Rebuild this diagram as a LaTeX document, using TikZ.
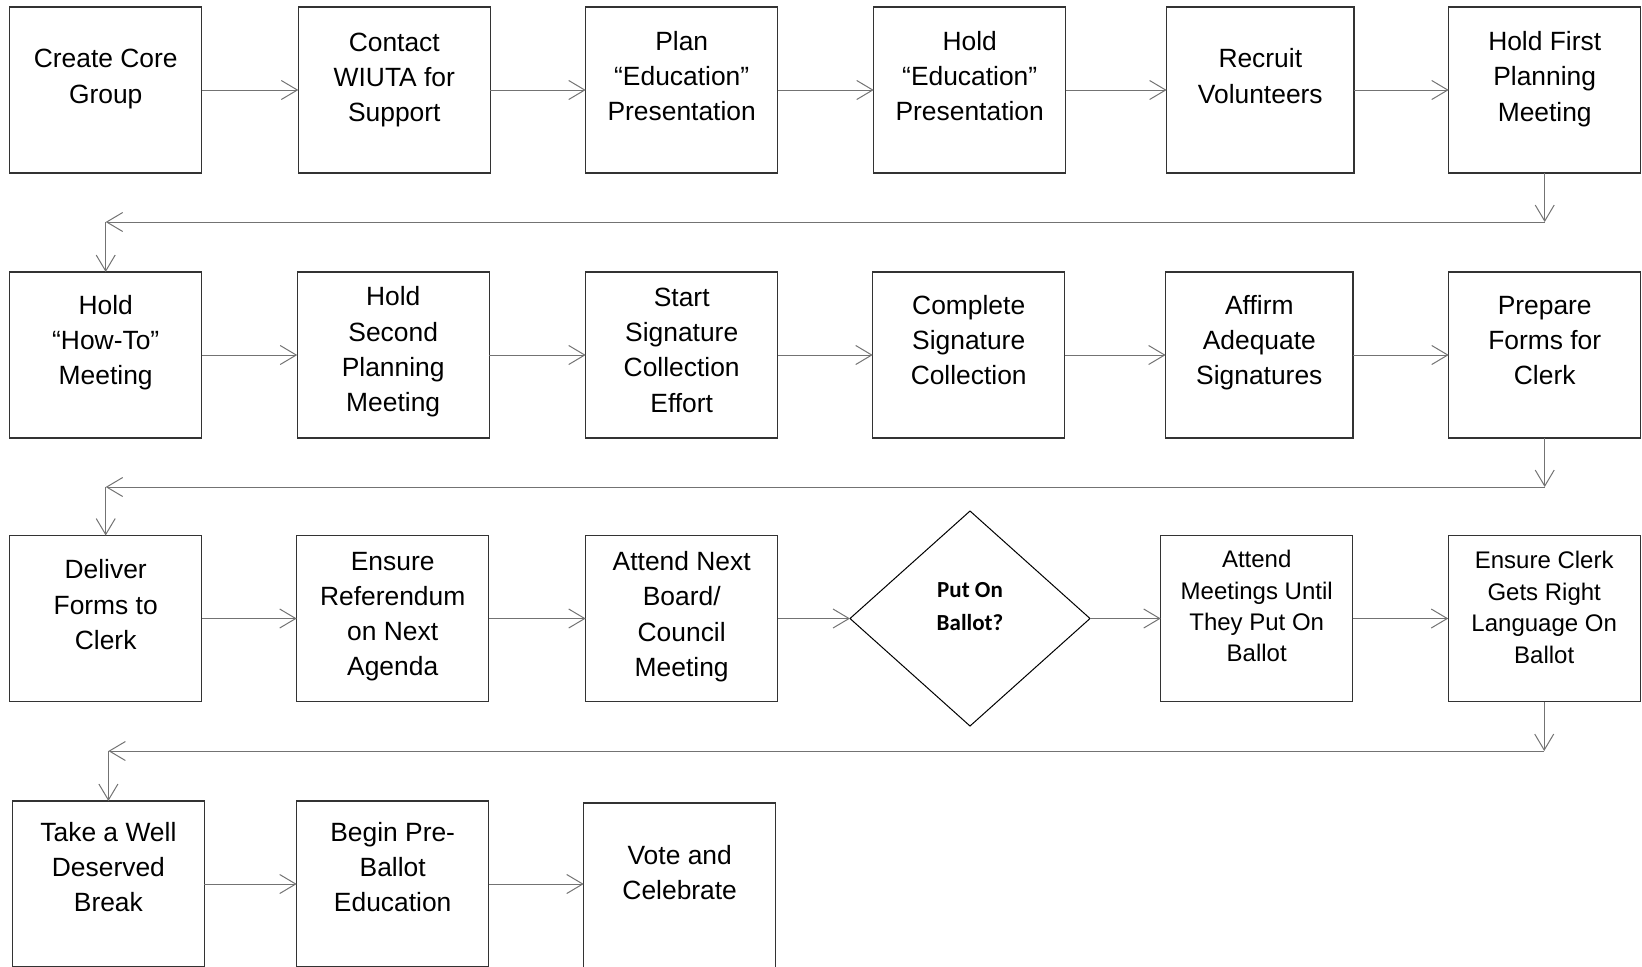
\documentclass[tikz,border=0pt]{standalone}
\usepackage{fontspec}
\setmainfont{Liberation Sans}
\newfontfamily\calibri{Carlito}
\usetikzlibrary{shapes.geometric, arrows.meta}

\begin{document}
\begin{tikzpicture}[x=0.5pt,y=-0.5pt,
  box/.style={draw=black!80, line width=0.6pt, minimum width=96pt, minimum height=83pt, inner sep=0pt, outer sep=0pt},
  thinbox/.style={box, minimum width=93.7pt},
  txt/.style={align=center, font=\fontsize{13.2}{17.6}\selectfont, inner sep=0pt},
  smalltxt/.style={align=center, font=\fontsize{12}{15.7}\selectfont, inner sep=0pt},
  decide/.style={diamond, draw=black, line width=0.5pt, minimum width=120pt, minimum height=107.5pt, inner sep=0pt, outer sep=0pt},
  flow/.style={draw=black!55, line width=0.5pt, -{Straight Barb[length=8pt,width=9.5pt]}}]
\useasboundingbox (0,0) rectangle (1642,966);
\clip (0,0) rectangle (1642,966);

% row 1
\node[box] (b1) at (105.7,90) {};
\node[box] (b2) at (394.3,90) {};
\node[box] (b3) at (681.7,90) {};
\node[box] (b4) at (969.7,90) {};
\node[thinbox] (b5) at (1260.3,90) {};
\node[box] (b6) at (1544.7,90) {};
\node[txt] (t1) at ([yshift=5.5pt]b1.center) {Create Core\\Group};
\node[txt] (t2) at ([yshift=5pt]b2.center) {Contact\\WIUTA for\\Support};
\node[txt] (t3) at ([yshift=7pt]b3.center) {Plan\\“Education”\\Presentation};
\node[txt] (t4) at ([yshift=7pt]b4.center) {Hold\\“Education”\\Presentation};
\node[txt] (t5) at ([yshift=7pt]b5.center) {Recruit\\Volunteers};
\node[txt] (t6) at ([yshift=5.5pt]b6.center) {Hold First\\Planning\\Meeting};

% row 2
\node[box] (b7) at (105.7,355) {};
\node[box] (b8) at (393.2,355) {};
\node[box] (b9) at (681.7,355) {};
\node[box] (b10) at (968.7,355) {};
\node[thinbox] (b11) at (1259.3,355) {};
\node[box] (b12) at (1544.7,355) {};
\node[txt] (t7) at ([yshift=6.3pt]b7.center) {Hold\\“How-To”\\Meeting};
\node[txt] (t8) at ([yshift=1.6pt]b8.center) {Hold\\Second\\Planning\\Meeting};
\node[txt] (t9) at ([yshift=2.4pt]b9.center) {Start\\Signature\\Collection\\Effort};
\node[txt] (t10) at ([yshift=7.6pt]b10.center) {Complete\\Signature\\Collection};
\node[txt] (t11) at ([yshift=6.3pt]b11.center) {Affirm\\Adequate\\Signatures};
\node[txt] (t12) at ([yshift=7.3pt]b12.center) {Prepare\\Forms for\\Clerk};

% row 3
\node[box] (b13) at (105.7,618.5) {};
\node[box] (b14) at (392.7,618.5) {};
\node[box] (b15) at (681.7,618.5) {};
\node[decide] (d1) at (970,618.5) {};
\node[box] (b16) at (1256.7,618.5) {};
\node[box] (b17) at (1544.2,618.5) {};
\node[txt] (t13) at ([yshift=6.9pt]b13.center) {Deliver\\Forms to\\Clerk};
\node[txt] (t14) at ([yshift=0.9pt]b14.center) {Ensure\\Referendum\\on Next\\Agenda};
\node[txt] (t15) at ([yshift=0.9pt]b15.center) {Attend Next\\Board/\\Council\\Meeting};
\node[align=center, inner sep=0pt, font=\calibri\bfseries\fontsize{11.5}{16.4}\selectfont] (td) at ([yshift=6pt]d1.center) {Put On\\Ballot?};
\node[smalltxt] (t16) at ([yshift=6.1pt]b16.center) {Attend\\Meetings Until\\They Put On\\Ballot};
\node[smalltxt] (t17) at ([yshift=5.5pt]b17.center) {Ensure Clerk\\Gets Right\\Language On\\Ballot};

% row 4
\node[box] (b18) at (108.4,884) {};
\node[box] (b19) at (392.7,884) {};
\node[box] (b20) at (679.7,886) {};
\node[txt] (t18) at ([yshift=8.5pt]b18.center) {Take a Well\\Deserved\\Break};
\node[txt] (t19) at ([yshift=8.5pt]b19.center) {Begin Pre-\\Ballot\\Education};
\node[txt] (t20) at ([yshift=6.9pt]b20.center) {Vote and\\Celebrate};

% arrows along the rows
\draw[flow] (b1.east) -- (b2.west);
\draw[flow] (b2.east) -- (b3.west);
\draw[flow] (b3.east) -- (b4.west);
\draw[flow] (b4.east) -- (b5.west);
\draw[flow] (b5.east) -- (b6.west);
\draw[flow] (b7.east) -- (b8.west);
\draw[flow] (b8.east) -- (b9.west);
\draw[flow] (b9.east) -- (b10.west);
\draw[flow] (b10.east) -- (b11.west);
\draw[flow] (b11.east) -- (b12.west);
\draw[flow] (b13.east) -- (b14.west);
\draw[flow] (b14.east) -- (b15.west);
\draw[flow] (b15.east) -- (d1.west);
\draw[flow] (d1.east) -- (b16.west);
\draw[flow] (b16.east) -- (b17.west);
\draw[flow] (b18.east) -- (b19.west);
\draw[flow] (b19.east) -- (b19.east -| b20.west);

% return lines
\path (b6.south) ++(0,49) coordinate (r1);
\coordinate (l1) at (r1 -| b7.north);
\draw[flow] (b6.south) -- (r1);
\draw[flow] (r1) -- (l1);
\draw[flow] (l1) -- (b7.north);
\path (b12.south) ++(0,49) coordinate (r2);
\coordinate (l2) at (r2 -| b13.north);
\draw[flow] (b12.south) -- (r2);
\draw[flow] (r2) -- (l2);
\draw[flow] (l2) -- (b13.north);
\path (b17.south) ++(0,49.5) coordinate (r3);
\coordinate (l3) at (r3 -| b18.north);
\draw[flow] (b17.south) -- (r3);
\draw[flow] (r3) -- (l3);
\draw[flow] (l3) -- (b18.north);
\end{tikzpicture}
\end{document}
